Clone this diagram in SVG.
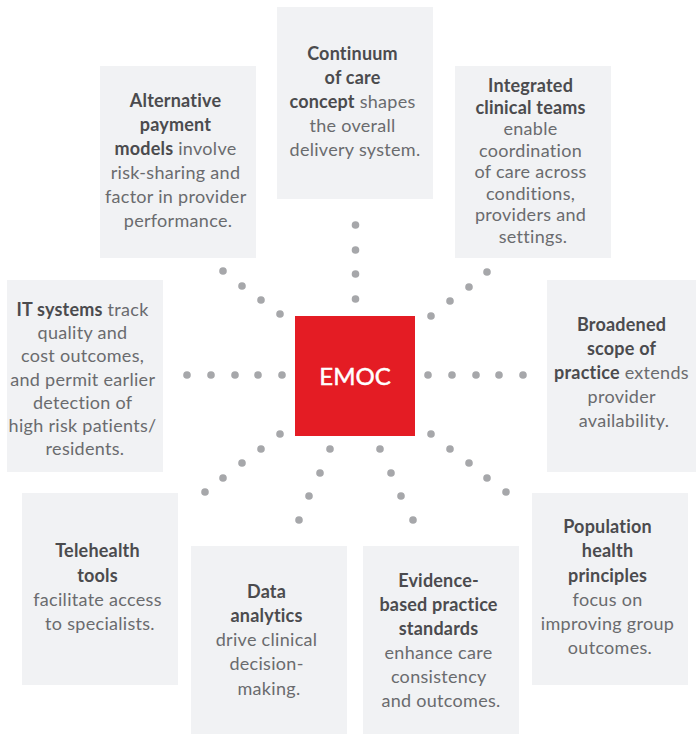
<svg xmlns="http://www.w3.org/2000/svg" width="696" height="734" viewBox="0 0 696 734">
  <style>
    .box { fill: #f1f2f4; }
    .txt { font-family: Lato, "Noto Sans", "Liberation Sans", sans-serif; font-size: 18px; fill: #6a6b6e; text-anchor: middle; letter-spacing: 0.3px; }
    .b { font-weight: bold; fill: #4b4b4e; letter-spacing: 0.2px; }
    .dot { fill: #a6a7aa; }
    .hub { fill: #e41c24; }
    .hub-label { font-family: Lato, "Noto Sans", "Liberation Sans", sans-serif; font-size: 24px; fill: #ffffff; stroke: #ffffff; stroke-width: 0.5px; text-anchor: middle; }
  </style>
  <defs>
    <circle id="d" r="3.8" class="dot"/>
  </defs>
  <rect width="696" height="734" fill="#ffffff"/>

  <!-- dotted spokes from the hub to each box -->
  <g id="connectors">
    <!-- top -->
    <use href="#d" x="355.5" y="225"/><use href="#d" x="355.5" y="250"/><use href="#d" x="355.5" y="274"/><use href="#d" x="355.5" y="299"/>
    <!-- upper right -->
    <use href="#d" x="431" y="316"/><use href="#d" x="450" y="301"/><use href="#d" x="469" y="287"/><use href="#d" x="487" y="272"/>
    <!-- upper left -->
    <use href="#d" x="280" y="314"/><use href="#d" x="261" y="300"/><use href="#d" x="242" y="286"/><use href="#d" x="223" y="271"/>
    <!-- right -->
    <use href="#d" x="428" y="375"/><use href="#d" x="452" y="375"/><use href="#d" x="476" y="375"/><use href="#d" x="499" y="375"/><use href="#d" x="523" y="375"/>
    <!-- left -->
    <use href="#d" x="187" y="375"/><use href="#d" x="211" y="375"/><use href="#d" x="235" y="375"/><use href="#d" x="258" y="375"/><use href="#d" x="282" y="375"/>
    <!-- lower right -->
    <use href="#d" x="431" y="434"/><use href="#d" x="450" y="449"/><use href="#d" x="469" y="463"/><use href="#d" x="487" y="478"/><use href="#d" x="506" y="492"/>
    <!-- lower left -->
    <use href="#d" x="280" y="434"/><use href="#d" x="261" y="449"/><use href="#d" x="242" y="463"/><use href="#d" x="223" y="478"/><use href="#d" x="205" y="492"/>
    <!-- lower middle right -->
    <use href="#d" x="380" y="449"/><use href="#d" x="391" y="473"/><use href="#d" x="401" y="496"/><use href="#d" x="413" y="520"/>
    <!-- lower middle left -->
    <use href="#d" x="330" y="449"/><use href="#d" x="320" y="473"/><use href="#d" x="309" y="496"/><use href="#d" x="299" y="520"/>
  </g>

  <!-- central hub -->
  <g id="emoc">
    <rect class="hub" x="295" y="316" width="120" height="120"/>
    <text class="hub-label" x="355" y="384.5">EMOC</text>
  </g>

  <g id="continuum">
    <rect class="box" x="277" y="7" width="156" height="192"/>
    <text class="txt" x="355">
      <tspan x="355" y="60" class="b">Continuum</tspan>
      <tspan x="355" y="84" class="b">of care</tspan>
      <tspan x="355" y="108"><tspan class="b">concept</tspan> shapes</tspan>
      <tspan x="355" y="132">the overall</tspan>
      <tspan x="355" y="156">delivery system.</tspan>
    </text>
  </g>

  <g id="payment">
    <rect class="box" x="100" y="66" width="156" height="192"/>
    <text class="txt">
      <tspan x="178" y="107" class="b">Alternative</tspan>
      <tspan x="178" y="131" class="b">payment</tspan>
      <tspan x="178" y="155"><tspan class="b">models</tspan> involve</tspan>
      <tspan x="178" y="179">risk-sharing and</tspan>
      <tspan x="178" y="203">factor in provider</tspan>
      <tspan x="178" y="227">performance.</tspan>
    </text>
  </g>

  <g id="clinical-teams">
    <rect class="box" x="455" y="66" width="156" height="192"/>
    <text class="txt">
      <tspan x="533" y="92" class="b">Integrated</tspan>
      <tspan x="533" y="113.5" class="b">clinical teams</tspan>
      <tspan x="533" y="135">enable</tspan>
      <tspan x="533" y="156.5">coordination</tspan>
      <tspan x="533" y="178">of care across</tspan>
      <tspan x="533" y="199.5">conditions,</tspan>
      <tspan x="533" y="221">providers and</tspan>
      <tspan x="533" y="242.5">settings.</tspan>
    </text>
  </g>

  <g id="it-systems">
    <rect class="box" x="7" y="280" width="156" height="192"/>
    <text class="txt">
      <tspan x="85" y="316"><tspan class="b">IT systems</tspan> track</tspan>
      <tspan x="85" y="339">quality and</tspan>
      <tspan x="85" y="362">cost outcomes,</tspan>
      <tspan x="85" y="386">and permit earlier</tspan>
      <tspan x="85" y="409">detection of</tspan>
      <tspan x="85" y="432">high risk patients/</tspan>
      <tspan x="85" y="455">residents.</tspan>
    </text>
  </g>

  <g id="scope">
    <rect class="box" x="547" y="280" width="156" height="192"/>
    <text class="txt">
      <tspan x="624" y="331" class="b">Broadened</tspan>
      <tspan x="624" y="355" class="b">scope of</tspan>
      <tspan x="624" y="379"><tspan class="b">practice</tspan> extends</tspan>
      <tspan x="624" y="403">provider</tspan>
      <tspan x="624" y="427">availability.</tspan>
    </text>
  </g>

  <g id="telehealth">
    <rect class="box" x="22" y="493" width="156" height="192"/>
    <text class="txt">
      <tspan x="100" y="557" class="b">Telehealth</tspan>
      <tspan x="100" y="582" class="b">tools</tspan>
      <tspan x="100" y="606">facilitate access</tspan>
      <tspan x="100" y="630">to specialists.</tspan>
    </text>
  </g>

  <g id="analytics">
    <rect class="box" x="191" y="546" width="156" height="192"/>
    <text class="txt">
      <tspan x="269" y="598" class="b">Data</tspan>
      <tspan x="269" y="622" class="b">analytics</tspan>
      <tspan x="269" y="646">drive clinical</tspan>
      <tspan x="269" y="670">decision-</tspan>
      <tspan x="269" y="695">making.</tspan>
    </text>
  </g>

  <g id="evidence">
    <rect class="box" x="363" y="546" width="156" height="192"/>
    <text class="txt">
      <tspan x="441" y="587" class="b">Evidence-</tspan>
      <tspan x="441" y="611" class="b">based practice</tspan>
      <tspan x="441" y="635" class="b">standards</tspan>
      <tspan x="441" y="659">enhance care</tspan>
      <tspan x="441" y="683">consistency</tspan>
      <tspan x="441" y="707">and outcomes.</tspan>
    </text>
  </g>

  <g id="population">
    <rect class="box" x="532" y="493" width="156" height="192"/>
    <text class="txt">
      <tspan x="610" y="533" class="b">Population</tspan>
      <tspan x="610" y="557" class="b">health</tspan>
      <tspan x="610" y="582" class="b">principles</tspan>
      <tspan x="610" y="606">focus on</tspan>
      <tspan x="610" y="630">improving group</tspan>
      <tspan x="610" y="654">outcomes.</tspan>
    </text>
  </g>
</svg>
